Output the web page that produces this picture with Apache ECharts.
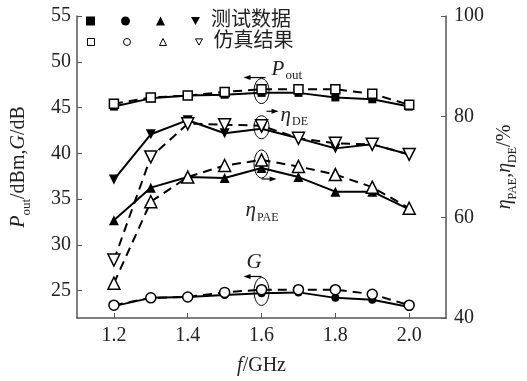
<!DOCTYPE html>
<html>
<head>
<meta charset="utf-8">
<script src="https://cdn.jsdelivr.net/npm/echarts@6/dist/echarts.min.js"></script>
<style>
  html, body { margin: 0; padding: 0; background: #fff; }
  #chart { width: 527px; height: 381px; }
</style>
</head>
<body>
<div id="chart"></div>
<script>
const freqs = [1.2, 1.3, 1.4, 1.5, 1.6, 1.7, 1.8, 1.9, 2.0]
const poutMeas = [45.1, 46.0, 46.3, 46.4, 46.6, 46.6, 46.1, 45.9, 45.1]
const poutSim = [45.4, 46.1, 46.3, 46.7, 47.0, 47.0, 47.0, 46.5, 45.3]
const gMeas = [23.3, 24.2, 24.3, 24.5, 24.7, 24.8, 24.2, 24.0, 23.2]
const gSim = [23.4, 24.2, 24.3, 24.8, 25.1, 25.1, 25.1, 24.6, 23.4]
const paeMeas = [59.4, 65.9, 68.0, 67.8, 69.8, 68.0, 65.1, 65.1, 61.6]
const paeSim = [46.9, 63.1, 68.0, 70.3, 71.4, 70.1, 68.5, 66.0, 61.8]
const deMeas = [67.5, 76.5, 79.3, 76.7, 77.6, 75.7, 73.7, 74.5, 72.5]
const deSim = [51.5, 72.0, 78.6, 78.4, 78.2, 75.7, 74.7, 74.5, 72.5]

const xTicks = [1.2, 1.4, 1.6, 1.8, 2.0]
const leftTicks = [25, 30, 35, 40, 45, 50, 55]

const serif = 'Liberation Serif'
const cjk = "'Liberation Serif', 'Noto Sans CJK SC', serif"
const downTri = 'path://M0,0L10,0L5,9Z'

const pairs = (vals) => freqs.map((f, i) => [f, vals[i]])

const mkSeries = (name, vals, yIdx, symbol, size, open, rotate) => ({
  name,
  type: 'line',
  yAxisIndex: yIdx,
  data: pairs(vals),
  symbol,
  symbolSize: size,
  symbolRotate: rotate || 0,
  z: open ? 3 : 2,
  lineStyle: {
    color: '#000',
    width: 2,
    type: open ? [9, 6] : 'solid'
  },
  itemStyle: open
    ? { color: '#fff', borderColor: '#000', borderWidth: 1.5 }
    : { color: '#000', borderColor: '#000', borderWidth: 0 }
})

const chart = echarts.init(document.getElementById('chart'))

const legendText = {
  fontFamily: cjk,
  fontSize: 20,
  color: '#222',
  padding: [0, 0, 0, 6]
}
const filledIcon = { color: '#000', borderWidth: 0 }
const openIcon = { color: '#fff', borderColor: '#000', borderWidth: 1 }

const tickFont = { fontFamily: serif, fontSize: 20, color: '#222' }

const option = {
  animation: false,
  grid: { left: 77, right: 78, top: 16, bottom: 59 },
  legend: [
    {
      left: 86, top: 11, padding: 0,
      itemWidth: 9, itemHeight: 9, itemGap: 26,
      textStyle: legendText,
      formatter: (n) => (n === 'DE测试' ? '测试数据' : ''),
      data: [
        { name: 'Pout测试', icon: 'rect', itemStyle: filledIcon },
        { name: 'G测试', icon: 'circle', itemStyle: filledIcon },
        { name: 'PAE测试', icon: 'triangle', itemStyle: filledIcon },
        { name: 'DE测试', icon: downTri, itemStyle: filledIcon }
      ],
      selectedMode: false
    },
    {
      left: 87, top: 32, padding: 0,
      itemWidth: 7, itemHeight: 7, itemGap: 28,
      textStyle: legendText,
      formatter: (n) => (n === 'DE仿真' ? '仿真结果' : ''),
      data: [
        { name: 'Pout仿真', icon: 'rect', itemStyle: openIcon },
        { name: 'G仿真', icon: 'circle', itemStyle: openIcon },
        { name: 'PAE仿真', icon: 'triangle', itemStyle: openIcon },
        { name: 'DE仿真', icon: downTri, itemStyle: openIcon }
      ],
      selectedMode: false
    }
  ],
  xAxis: {
    type: 'value',
    min: 1.1,
    max: 2.1,
    name: '{i|f}{n|/GHz}',
    nameLocation: 'middle',
    nameGap: 38,
    nameTextStyle: {
      rich: {
        i: { fontFamily: serif, fontSize: 20, fontStyle: 'italic', color: '#222' },
        n: { fontFamily: serif, fontSize: 20, color: '#222' }
      }
    },
    axisLine: { lineStyle: { color: '#555', width: 1.5 } },
    axisTick: { inside: true, length: 5, customValues: xTicks, lineStyle: { color: '#555' } },
    axisLabel: Object.assign({
      customValues: xTicks,
      margin: 8,
      formatter: (v) => v.toFixed(1)
    }, tickFont),
    splitLine: { show: false }
  },
  yAxis: [
    {
      type: 'value',
      min: 22,
      max: 55,
      position: 'left',
      name: '{i|P}{s|out}{n|/dBm,}{i|G}{n|/dB}',
      nameLocation: 'middle',
      nameRotate: 90,
      nameGap: 46,
      nameTextStyle: {
        rich: {
          i: { fontFamily: serif, fontSize: 20, fontStyle: 'italic', color: '#222', lineHeight: 24 },
          n: { fontFamily: serif, fontSize: 20, color: '#222', lineHeight: 24 },
          s: { fontFamily: serif, fontSize: 13, color: '#222', lineHeight: 24, verticalAlign: 'bottom', padding: [0, 0, -2, 0] }
        }
      },
      axisLine: { show: true, lineStyle: { color: '#555', width: 1.5 } },
      axisTick: { show: true, inside: true, length: 5, customValues: leftTicks, lineStyle: { color: '#555' } },
      axisLabel: Object.assign({ customValues: leftTicks, margin: 6 }, tickFont),
      splitLine: { show: false }
    },
    {
      type: 'value',
      min: 40,
      max: 100,
      interval: 20,
      position: 'right',
      name: '{i|η}{s|PAE}{n|,}{i|η}{s|DE}{n|/%}',
      nameLocation: 'middle',
      nameRotate: 90,
      nameGap: 37,
      nameTextStyle: {
        rich: {
          i: { fontFamily: serif, fontSize: 20, fontStyle: 'italic', color: '#222', lineHeight: 24 },
          n: { fontFamily: serif, fontSize: 20, color: '#222', lineHeight: 24 },
          s: { fontFamily: serif, fontSize: 12, color: '#222', lineHeight: 24, verticalAlign: 'bottom', padding: [0, 0, -2, 0] }
        }
      },
      axisLine: { show: true, lineStyle: { color: '#555', width: 1.5 } },
      axisTick: { show: true, inside: true, length: 5, lineStyle: { color: '#555' } },
      axisLabel: Object.assign({ margin: 8 }, tickFont),
      splitLine: { show: false }
    }
  ],
  series: [
    mkSeries('Pout测试', poutMeas, 0, 'rect', 8, false),
    mkSeries('Pout仿真', poutSim, 0, 'rect', 9, true),
    mkSeries('G测试', gMeas, 0, 'circle', 8, false),
    mkSeries('G仿真', gSim, 0, 'circle', 10, true),
    mkSeries('PAE测试', paeMeas, 1, 'triangle', 10, false),
    mkSeries('PAE仿真', paeSim, 1, 'triangle', 12, true),
    mkSeries('DE测试', deMeas, 1, 'triangle', 10, false, 180),
    mkSeries('DE仿真', deSim, 1, 'triangle', 12, true, 180)
  ]
}

chart.setOption(option)

// annotations at 1.6 GHz: ellipse round each pair, arrow pointing to its axis, label
const idx = freqs.indexOf(1.6)
const toPx = (v, yIdx) => chart.convertToPixel({ xAxisIndex: 0, yAxisIndex: yIdx }, [1.6, v])

const ann = []
const ellipse = (cx, cy, ry) => ann.push({
  type: 'ellipse',
  shape: { cx, cy, rx: 7.5, ry },
  style: { fill: 'none', stroke: '#000', lineWidth: 1 },
  z: 10
})
const arrow = (x1, y, x2) => {
  const d = x2 > x1 ? 1 : -1
  ann.push({
    type: 'line',
    shape: { x1, y1: y, x2: x2 - d * 5, y2: y },
    style: { stroke: '#000', lineWidth: 1.2 },
    z: 10
  })
  ann.push({
    type: 'polygon',
    shape: { points: [[x2, y], [x2 - d * 7, y - 2.5], [x2 - d * 7, y + 2.5]] },
    style: { fill: '#000' },
    z: 10
  })
}
const label = (x, y, main, sub, subSize) => ann.push({
  type: 'text',
  x, y,
  style: {
    text: `{i|${main}}{s|${sub}}`,
    rich: {
      i: { fontFamily: serif, fontSize: 21, fontStyle: 'italic', fill: '#222', lineHeight: 24 },
      s: { fontFamily: serif, fontSize: subSize, fill: '#222', lineHeight: 24, verticalAlign: 'bottom', padding: [0, 0, -1, 1] }
    },
    verticalAlign: 'middle'
  },
  z: 10
})

// Pout
let a = toPx(poutMeas[idx], 0), b = toPx(poutSim[idx], 0)
let cx = a[0], cy = (a[1] + b[1]) / 2
ellipse(cx, cy, 12.5)
arrow(cx + 4, cy - 13.5, cx - 18)
label(cx + 10, cy - 22, 'P', 'out', 13)

// eta DE
a = toPx(deMeas[idx], 1); b = toPx(deSim[idx], 1)
cy = (a[1] + b[1]) / 2
ellipse(cx, cy, 11.5)
arrow(cx + 5, cy - 16, cx + 17)
label(cx + 19, cy - 12, 'η', 'DE', 12)

// eta PAE
a = toPx(paeMeas[idx], 1); b = toPx(paeSim[idx], 1)
cy = (a[1] + b[1]) / 2
ellipse(cx, cy, 14)
arrow(cx, cy + 15, cx + 15)
label(cx - 16, cy + 47, 'η', 'PAE', 12)

// G
a = toPx(gMeas[idx], 0); b = toPx(gSim[idx], 0)
cy = (a[1] + b[1]) / 2
ellipse(cx, cy, 14)
arrow(cx, cy - 15, cx - 18)
label(cx - 15, cy - 29, 'G', '', 12)

chart.setOption({ graphic: ann })

window.addEventListener('resize', () => chart.resize())
</script>
</body>
</html>
